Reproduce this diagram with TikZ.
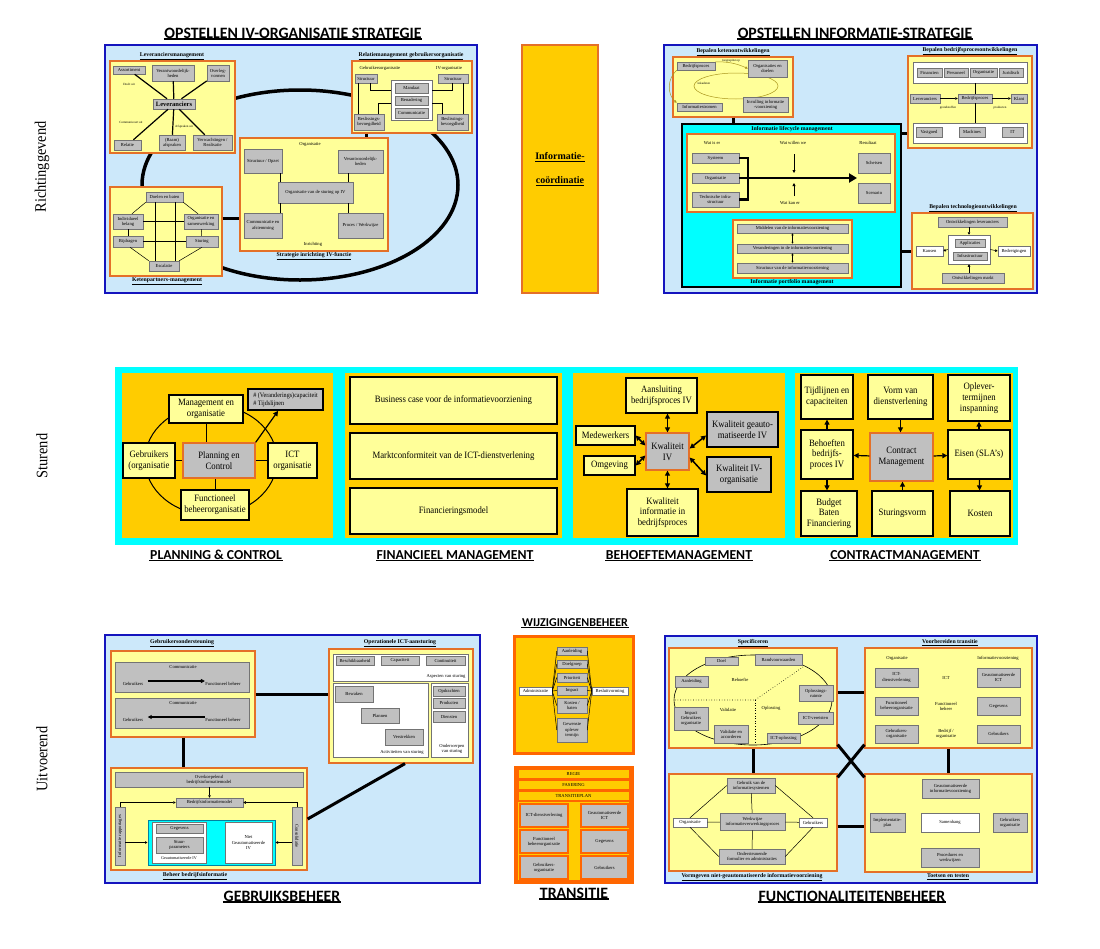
\documentclass[tikz,border=0pt]{standalone}
\usepackage{fontspec}
\setmainfont{Liberation Serif}
\newfontfamily\carl{Carlito}
\newfontfamily\nserif[FakeStretch=0.9]{Liberation Serif}
\usetikzlibrary{arrows.meta}
\definecolor{pblue}{RGB}{20,20,190}
\definecolor{lblue}{RGB}{204,232,250}
\definecolor{obord}{RGB}{228,112,40}
\definecolor{lyel}{RGB}{255,255,153}
\definecolor{gold}{RGB}{255,204,0}
\definecolor{cyanc}{RGB}{0,255,255}
\definecolor{ored}{RGB}{255,102,0}
\definecolor{gboxc}{RGB}{192,192,192}
\definecolor{olc}{RGB}{170,150,30}
\definecolor{teal2}{RGB}{0,130,160}
\newcommand\myfs{\fontsize{4.6}{5.1}\selectfont}
\newcommand\myst[1]{{\fontsize{5.8}{6.4}\selectfont\bfseries\underline{#1}}}
\newcommand\myfm{\nserif\fontsize{9.7}{10.7}\selectfont}
\newcommand\bx[7]{\node[#2, minimum width={#5-#3}, minimum height={#6-#4}] (#1) at ({(#3+#5)/2},{(#4+#6)/2}) {#7};}
\tikzset{
 pan/.style={draw=pblue,line width=2.5pt,fill=lblue},
 yb/.style={draw=obord,line width=1.2pt,fill=lyel},
 gb/.style={draw=black!55,line width=0.5pt,fill=gboxc,font=\myfs,align=center,inner sep=0.3pt},
 wb/.style={draw=black!55,line width=0.5pt,fill=white,font=\myfs,align=center,inner sep=0.3pt},
 sm/.style={font=\myfs,align=center,inner sep=0.3pt},
 stt/.style={inner sep=0.5pt,align=center},
 thk/.style={line width=3pt,black},
 thn/.style={line width=0.5pt,black},
 sarr/.style={-{Triangle[length=2.5pt,width=2.5pt]}},
 marr/.style={line width=1.2pt,-{Triangle[length=5pt,width=5pt]}},
 darr/.style={line width=1.5pt,{Triangle[length=5pt,width=5pt]}-{Triangle[length=5pt,width=5pt]}},
 ttl/.style={font=\carl\bfseries\fontsize{15.8}{18}\selectfont,inner sep=0.6pt,
   append after command={(\tikzlastnode.south west) edge[draw,line width=1.4pt] (\tikzlastnode.south east)}},
 ttm/.style={ttl,font=\carl\bfseries\fontsize{13.7}{16}\selectfont},
 tts/.style={ttl,font=\carl\bfseries\fontsize{12}{14}\selectfont},
 mb/.style={draw=black,line width=1.3pt,fill=lyel,font=\myfm,align=center,inner sep=0.5pt},
 mg/.style={draw=black,line width=1.8pt,fill=gboxc,font=\myfm,align=center,inner sep=0.5pt},
 mo/.style={draw=obord,line width=1.3pt,fill=gboxc,font=\myfm,align=center,inner sep=0.5pt},
 tgb/.style={draw=ored,line width=1.2pt,fill=gboxc,font=\myfs,align=center,inner sep=0.3pt},
 lab/.style={font=\nserif\fontsize{16}{18}\selectfont,rotate=90,inner sep=0pt},
}
\begin{document}
\begin{tikzpicture}[x=1pt,y=-1pt]
\useasboundingbox (0,0) rectangle (1100,948);
\fill[white] (0,0) rectangle (1100,948);

% side labels
\node[lab] (L1) at (42,167) {Richtinggevend};
\node[lab] (L2) at (42,456) {Sturend};
\node[lab] (L3) at (42,759) {Uitvoerend};

% ================= TOP LEFT =================
\node[ttl] (T1) at (293,33) {OPSTELLEN IV-ORGANISATIE STRATEGIE};
\bx{P1}{pan}{105}{45}{477}{293}{}
\draw[line width=3.5pt] (300,185) ellipse [x radius=158pt, y radius=95pt];

\bx{lev}{yb}{110}{61}{235}{153}{}
\node[stt] (levt) at (172,56) {\myst{Leveranciersmanagement}};
\bx{la}{gb}{113}{66}{145}{74}{Assortiment}
\bx{lb}{gb}{152}{65}{194}{81}{Verantwoordelijk-\\heden}
\bx{lc}{gb}{207}{65}{229}{81}{Overleg-\\vormen}
\bx{ld}{gb,font=\fontsize{6.5}{7}\selectfont\bfseries}{153}{99}{195}{109}{Leveranciers}
\bx{le}{gb}{114}{140}{141}{150}{Relatie}
\bx{lf}{gb}{159}{135}{185}{150}{(Raam)\\afspraken}
\bx{lg}{gb}{193}{135}{232}{150}{Verwachtingen /\\Realisatie}
\foreach \t in {la,lb,lc,le,lf,lg} \draw[line width=1.2pt] (ld) -- (\t);
\node[sm,font=\fontsize{3.2}{4}\selectfont] (lx1) at (129,84) {Doelt uit};
\node[sm,font=\fontsize{3.2}{4}\selectfont] (lx2) at (131,122) {Communiceert uit};
\node[sm,font=\fontsize{3.2}{4}\selectfont] (lx3) at (184,127) {Afspraken uit};

\bx{rel}{yb}{352}{61}{472}{133}{}
\node[stt] (relt) at (411,56) {\myst{Relatiemanagement gebruikersorganisatie}};
\node[sm] (rl1) at (380,68) {Gebruikersorganisatie};
\node[sm] (rl2) at (449,68) {IV-organisatie};
\bx{rs1}{gb}{355}{74}{377}{83}{Structuur}
\bx{rs2}{gb}{438}{74}{468}{83}{Structuur}
\bx{rw}{wb}{391}{80}{432}{120}{}
\bx{rm}{gb}{395}{83}{428}{93}{Mandaat}
\bx{rb}{gb}{395}{96}{428}{105}{Benadering}
\bx{rc}{gb}{395}{108}{428}{118}{Communicatie}
\bx{rb1}{gb}{354}{114}{384}{130}{Beslissings-\\bevoegdheid}
\bx{rb2}{gb}{437}{114}{468}{130}{Beslissings-\\bevoegdheid}
\draw[thn] ([xshift=3pt]rs1.south west) -- ([xshift=3pt]rs1.south west |- rb1.north);
\draw[thn] ([xshift=15pt]rs1.south west) |- ([yshift=-10pt]rw.north west);
\draw[thn] ([xshift=24pt]rb1.north west) |- ([yshift=-23pt]rw.north west);
\draw[thn] ([xshift=-5pt]rs2.south east) -- ([xshift=-5pt]rs2.south east |- rb2.north);
\draw[thn] ([xshift=-16pt]rs2.south east) |- ([yshift=-10pt]rw.north east);
\draw[thn] ([xshift=-26pt]rb2.north east) |- ([yshift=-23pt]rw.north east);

\bx{org}{yb}{240}{138}{388}{251}{}
\node[stt] (orgt) at (314,256) {\myst{Strategie inrichting IV-functie}};
\node[sm] (orgl1) at (310,144) {Organisatie};
\node[sm] (orgl2) at (313,244) {Inrichting};
\bx{os}{gb}{244}{149}{282}{173}{Structuur / Opzet}
\bx{ov}{gb}{338}{150}{383}{173}{Verantwoordelijk-\\heden}
\bx{oc}{gb}{278}{182}{353}{203}{Organisatie van de sturing op IV}
\bx{oa}{gb}{244}{213}{282}{238}{Communicatie en\\afstemming}
\bx{op}{gb}{338}{213}{383}{238}{Proces / Werkwijze}
\draw[thn] ([xshift=-2pt]os.south east) -- ([xshift=-2pt]os.south east |- oc.north);
\draw[thn] ([xshift=-2pt]oa.north east) -- ([xshift=-2pt]oa.north east |- oc.south);
\draw[thn] ([xshift=10pt]ov.south west) -- ([xshift=10pt]ov.south west |- oc.north);
\draw[thn] ([xshift=10pt]op.north west) -- ([xshift=10pt]op.north west |- oc.south);

\bx{ket}{yb}{110}{187}{222}{276}{}
\node[stt] (kett) at (167,281) {\myst{Ketenpartners-management}};
\bx{kd}{gb}{146}{192}{183}{202}{Doelen en baten}
\bx{ki}{gb}{113}{214}{143}{229}{Individueel\\belang}
\bx{ko}{gb}{184}{214}{218}{229}{Organisatie en\\samenwerking}
\bx{kb}{gb}{113}{236}{143}{247}{Bijdragen}
\bx{ks}{gb}{186}{236}{218}{247}{Sturing}
\bx{ke}{gb}{149}{261}{179}{271}{Escalatie}
\draw[thn] (kd.south west) -- ([xshift=4pt]ki.north);
\draw[thn] (kd.south east) -- ([xshift=-3pt]ko.north);
\draw[thn] (ki) -- (ko);
\draw[thn] (kb) -- (ks);
\draw[thn] (ki) -- (kb);
\draw[thn] (ko) -- (ks);
\draw[thn] ([xshift=2pt]kb.south) -- (ke.north west);
\draw[thn] (ks.south) -- (ke.north east);
\draw[thn] ([xshift=-9pt]kd.south) -- ([xshift=-9pt]kd.south |- ke.north);
\draw[thn] ([xshift=11pt]kd.south) -- ([xshift=11pt]kd.south |- ke.north);

\draw[thk] ([yshift=13.5pt]ket.east) -- ([yshift=13.5pt]ket.east -| org.west);
\draw[thk] ([xshift=15pt]rel.south west) -- ([xshift=15pt]rel.south west |- org.north);

% ================= INFORMATIE-COORDINATIE =================
\bx{ic}{draw=obord,line width=2.5pt,fill=gold,font=\bfseries\fontsize{10}{12}\selectfont,align=center}{522}{45}{598}{293}{\underline{Informatie-}\\[12pt]\underline{coördinatie}}

% ================= TOP RIGHT =================
\node[ttl] (T2) at (855,33) {OPSTELLEN INFORMATIE-STRATEGIE};
\bx{P2}{pan}{664}{45}{1037}{293}{}

\bx{bk}{yb}{673}{57}{793}{117}{}
\node[stt] (bkt) at (733,52) {\myst{Bepalen ketenontwikkelingen}};
\draw[olc,line width=0.5pt] (736,86) ellipse [x radius=42pt,y radius=13pt];
\bx{bk1}{gb}{677}{62}{715}{70}{Bedrijfsproces}
\bx{bk2}{gb}{748}{60}{787}{77}{Organisaties en\\doelen}
\bx{bk3}{gb}{677}{103}{722}{111}{Informatiestromen}
\bx{bk4}{gb}{743}{97}{788}{112}{Invulling informatie\\-voorziening}
\draw[olc,line width=0.5pt,sarr] (bk1.north east) to[bend left=12] (bk2.west);
\draw[olc,line width=0.5pt,sarr] (bk1.south west) to[bend right=50] (bk3.north west);
\node[sm,font=\fontsize{3.2}{4}\selectfont] (bkl1) at (731,61) {toegespitst op};
\node[sm,font=\fontsize{3.2}{4}\selectfont] (bkl2) at (704,83) {inkaderen};

\bx{ilm}{draw=black,line width=1.2pt,fill=cyanc}{682}{124}{901}{287}{}
\node[stt] (ilmt) at (792,130) {\myst{Informatie lifecycle management}};
\bx{ily}{yb}{687}{134}{895}{212}{}
\node[sm] (wl1) at (712,143) {Wat is er};
\node[sm] (wl2) at (793,143) {Wat willen we};
\node[sm] (wl3) at (868,143) {Resultaat};
\node[sm] (wl4) at (790,203) {Wat kan er};
\bx{is1}{gb}{692}{153}{739}{163}{Systeem}
\bx{is2}{gb}{692}{173}{739}{183}{Organisatie}
\bx{is3}{gb}{692}{192}{739}{207}{Technische infra-\\structuur}
\bx{ir1}{gb}{858}{153}{890}{173}{Schetsen}
\bx{ir2}{gb}{858}{183}{890}{203}{Scenario}
\coordinate (brk) at (748,178);
\coordinate (ae) at (857,178);
\draw[line width=2.5pt] (is1.east) -| (brk) |- (is3.east);
\draw[line width=2.5pt] (is2.east) -- (brk);
\draw[line width=2.5pt,-{Triangle[length=8pt,width=9pt]}] (brk) -- (ae);
\coordinate (va1) at (794,154);
\coordinate (va2) at (794,173);
\coordinate (va3) at (794,196);
\coordinate (va4) at (794,183);
\draw[line width=0.8pt,-{Triangle[length=3pt,width=3pt]}] (va1) -- (va2);
\draw[line width=0.8pt,-{Triangle[length=3pt,width=3pt]}] (va3) -- (va4);

\bx{ipm}{yb}{733}{220}{852}{278}{}
\node[stt] (ipmt) at (792,283) {\myst{Informatie portfolio management}};
\bx{ip1}{gb}{737}{224}{848}{233}{Middelen van de informatievoorziening}
\bx{ip2}{gb}{737}{244}{848}{253}{Veranderingen in de informatievoorziening}
\bx{ip3}{gb}{737}{263}{848}{273}{Structuur van de informatievoorziening}
\draw[line width=0.6pt,{Triangle[length=2pt,width=2pt]}-{Triangle[length=2pt,width=2pt]}] (ip1) -- (ip2);
\draw[line width=0.6pt,{Triangle[length=2pt,width=2pt]}-{Triangle[length=2pt,width=2pt]}] (ip2) -- (ip3);

\bx{bb}{yb}{908}{56}{1032}{148}{}
\node[stt] (bbt) at (970,51) {\myst{Bepalen bedrijfsprocesontwikkelingen}};
\bx{bbw1}{wb}{913}{62}{1027}{83}{}
\bx{bf1}{gb}{917}{68}{942}{77}{Financien}
\bx{bf2}{gb}{944}{68}{968}{77}{Personeel}
\bx{bf3}{gb}{970}{68}{997}{77}{Organisatie}
\bx{bf4}{gb}{999}{68}{1023}{77}{Juridisch}
\bx{bl}{gb}{910}{94}{940}{103}{Leveranciers}
\bx{bp}{gb}{958}{94}{992}{103}{Bedrijfsproces}
\bx{bkl}{gb}{1011}{94}{1027}{103}{Klant}
\bx{bbw2}{wb}{913}{123}{1027}{143}{}
\bx{bv1}{gb}{916}{127}{942}{137}{Vastgoed}
\bx{bv2}{gb}{959}{127}{985}{137}{Machines}
\bx{bv3}{gb}{1002}{127}{1023}{137}{IT}
\draw[thn,sarr] (bl) -- (bp);
\draw[thn,sarr] (bp) -- (bkl);
\draw[thn] (bp.north) -- (bp.north |- bbw1.south);
\draw[thn] (bp.south) -- (bp.south |- bbw2.north);
\node[sm,font=\fontsize{3.2}{4}\selectfont] (bgl1) at (948,108) {grondstoffen};
\node[sm,font=\fontsize{3.2}{4}\selectfont] (bgl2) at (1000,108) {producten};

\bx{bt}{yb}{912}{213}{1033}{289}{}
\node[stt] (btt) at (973,208) {\myst{Bepalen technologieontwikkelingen}};
\bx{bt1}{gb}{938}{217}{1007}{227}{Ontwikkelingen leveranciers}
\bx{btw}{wb}{948}{235}{990}{264}{}
\bx{bt2}{gb}{955}{239}{985}{247}{Applicaties}
\bx{bt3}{gb}{953}{252}{987}{260}{Infrastructuur}
\bx{bt4}{wb}{916}{246}{943}{256}{Kansen}
\bx{bt5}{wb}{998}{246}{1030}{256}{Bedreigingen}
\bx{bt6}{gb}{942}{273}{1004}{283}{Ontwikkelingen markt}
\draw[thn,sarr] (bt1.south -| btw.north) -- (btw.north);
\draw[thn,sarr] (bt6.north -| btw.south) -- (btw.south);
\draw[thn,sarr] (btw.west) -- (bt4.east);
\draw[thn,sarr] (btw.east) -- (bt5.west);

\draw[thk] (bk.south) -- (bk.south |- ilm.north);
\draw[thk] (bbw2.west -| ilm.east) -- (bbw2.west -| bb.west);
\draw[thk] (bt4.west -| ilm.east) -- (bt4.west -| bt.west);

% ================= MIDDLE BAND =================
\bx{mband}{fill=cyanc,draw=none}{115}{367}{1018}{545}{}
\bx{pp}{fill=gold,draw=none}{122}{373}{333}{538}{}
\bx{fp}{fill=gold,draw=none}{345}{373}{562}{538}{}
\bx{bp2}{fill=gold,draw=none}{573}{373}{785}{538}{}
\bx{cp}{fill=gold,draw=none}{795}{373}{1013}{538}{}
\node[ttm] (T3) at (216,555) {PLANNING \& CONTROL};
\node[ttm] (T4) at (455,555) {FINANCIEEL MANAGEMENT};
\node[ttm] (T5) at (679,555) {BEHOEFTEMANAGEMENT};
\node[ttm] (T6) at (905,555) {CONTRACTMANAGEMENT};

% planning & control
\draw[line width=1pt] (211,460) ellipse [x radius=66pt,y radius=55pt];
\bx{pm}{mb}{169}{395}{243}{423}{Management en\\organisatie}
\bx{pcap}{mg,font=\nserif\fontsize{6.8}{7.8}\selectfont,align=left}{248}{389}{323}{410}{\# (Veranderings)capaciteit\\\# Tijdslijnen}
\bx{pg}{mb}{123}{443}{175}{478}{Gebruikers\\(organisatie}
\bx{pc}{mo}{183}{443}{255}{478}{Planning en\\Control}
\bx{pi}{mb}{268}{443}{317}{478}{ICT\\organisatie}
\bx{pf}{mb}{181}{490}{249}{520}{Functioneel\\beheerorganisatie}
\draw[line width=1pt] (pm.south) -- (pm.south |- pc.north);
\draw[line width=1pt] (pf.north) -- (pf.north |- pc.south);
\draw[line width=1pt] (pg) -- (pc);
\draw[line width=1pt] (pc) -- (pi);
\draw[marr] (pc.north east) -- ([xshift=31pt]pcap.south west);

% financieel
\bx{f1}{mb}{350}{377}{557}{424}{Business case voor de informatievoorziening}
\bx{f2}{mb}{350}{433}{557}{479}{Marktconformiteit van de ICT-dienstverlening}
\bx{f3}{mb}{350}{488}{557}{534}{Financieringsmodel}

% behoefte
\bx{b0}{mo}{646}{433}{689}{470}{Kwaliteit\\IV}
\bx{b1}{mb}{626}{378}{697}{413}{Aansluiting\\bedrijfsproces IV}
\bx{b2}{mb}{576}{426}{635}{445}{Medewerkers}
\bx{b3}{mb}{584}{456}{635}{475}{Omgeving}
\bx{b4}{mg}{707}{412}{778}{447}{Kwaliteit geauto-\\matiseerde IV}
\bx{b5}{mg}{707}{457}{771}{492}{Kwaliteit IV-\\organisatie}
\bx{b6}{mb}{627}{489}{698}{536}{Kwaliteit\\informatie in\\bedrijfsproces}
\draw[darr] (b0.north) -- (b0.north |- b1.south);
\draw[darr] (b0.south) -- (b0.south |- b6.north);
\draw[darr] (b2.east) -- ([yshift=6pt]b0.west);
\draw[darr] (b3.east) -- ([yshift=-4pt]b0.west);
\draw[darr] ([yshift=3pt]b0.east) -- ([yshift=-6pt]b4.west);
\draw[darr] ([yshift=-6pt]b0.east) -- ([yshift=-1pt]b5.west);

% contract
\bx{c1}{mb}{801}{375}{853}{419}{Tijdlijnen en\\capaciteiten}
\bx{c2}{mb}{868}{375}{933}{419}{Vorm van\\dienstverlening}
\bx{c3}{mb}{948}{375}{1010}{421}{Oplever-\\termijnen\\inspanning}
\bx{c4}{mb}{801}{430}{853}{479}{Behoeften\\bedrijfs-\\proces IV}
\bx{c5}{mo}{870}{433}{933}{481}{Contract\\Management}
\bx{c6}{mb}{948}{430}{1010}{479}{Eisen (SLA’s)}
\bx{c7}{mb}{801}{491}{857}{536}{Budget\\Baten\\Financiering}
\bx{c8}{mb}{872}{491}{933}{536}{Sturingsvorm}
\bx{c9}{mb}{950}{491}{1010}{536}{Kosten}
\draw[marr] (c5) -- (c4);
\draw[marr] (c5) -- (c6);
\draw[marr] (c2.south) -- (c2.south |- c5.north);
\draw[marr] (c8.north) -- (c8.north |- c5.south);
\draw[marr] (c4) -- (c1);
\draw[marr] (c4.south) -- (c4.south |- c7.north);
\draw[marr] (c6) -- (c3);
\draw[marr] (c6) -- (c9);

% ================= BOTTOM LEFT =================
\bx{P3}{pan}{105}{635}{480}{883}{}
\node[ttl] (T7) at (282,896) {GEBRUIKSBEHEER};

\bx{gu}{yb}{111}{651}{255}{737}{}
\node[stt] (gut) at (182,643) {\myst{Gebruikersondersteuning}};
\bx{gu1}{gb}{115}{662}{249}{692}{}
\bx{gu2}{gb}{115}{698}{249}{728}{}
\node[sm] (gc1) at (183,667) {Communicatie};
\node[sm] (gl1) at (133,684) {Gebruikers};
\node[sm] (gr1) at (223,684) {Functioneel beheer};
\node[sm] (gc2) at (183,703) {Communicatie};
\node[sm] (gl2) at (133,720) {Gebruikers};
\node[sm] (gr2) at (223,720) {Functioneel beheer};
\draw[line width=1.5pt,-{Triangle[length=4pt,width=4pt]},shorten <=4pt] ([yshift=3pt]gl1.east) -- ([yshift=3pt]gr1.west);
\draw[line width=1.5pt,-{Triangle[length=4pt,width=4pt]},shorten >=4pt] ([yshift=3pt]gr2.west) -- ([yshift=3pt]gl2.east);

\bx{oi}{yb}{329}{649}{473}{763}{}
\node[stt] (oit) at (400,643) {\myst{Operationele ICT-aansturing}};
\bx{ow1}{wb}{333}{654}{468}{681}{}
\bx{oq1}{gb}{336}{656}{374}{665}{Beschikbaarheid}
\bx{oq2}{gb}{381}{656}{419}{665}{Capaciteit}
\bx{oq3}{gb}{426}{656}{465}{665}{Continuiteit}
\node[sm] (owl1) at (446,676) {Aspecten van sturing};
\bx{ow2}{wb}{333}{683}{428}{757}{}
\bx{oa1}{gb}{335}{686}{373}{702}{Bewaken}
\bx{oa2}{gb}{361}{708}{399}{723}{Plannen}
\bx{oa3}{gb}{385}{729}{423}{745}{Verstrekken}
\node[sm] (owl2) at (402,752) {Activiteiten van sturing};
\bx{ow3}{wb}{431}{683}{468}{757}{}
\bx{ob1}{gb}{433}{686}{465}{696}{Opdrachten}
\bx{ob2}{gb}{433}{698}{465}{708}{Producten}
\bx{ob3}{gb}{433}{711}{465}{722}{Diensten}
\node[sm] (owl3) at (452,749) {Onderwerpen\\van sturing};

\bx{bi}{yb}{111}{768}{307}{870}{}
\node[stt] (bit) at (195,876) {\myst{Beheer bedrijfsinformatie}};
\bx{bi1}{gb}{115}{772}{303}{787}{Overkoepelend\\bedrijfsinformatiemodel}
\bx{bi2}{gb}{176}{798}{243}{807}{Bedrijfsinformatiemodel}
\bx{bi3}{gb}{115}{807}{125}{865}{}
\node[sm,rotate=90] (bi3t) at (bi3) {Informatie rapportages};
\bx{bi4}{gb}{292}{807}{302}{865}{}
\node[sm,rotate=-90] (bi4t) at (bi4) {Consolidatie};
\bx{bic}{draw=teal2,line width=1pt,fill=cyanc}{148}{820}{275}{865}{}
\bx{bw1}{wb}{152}{822}{206}{863}{}
\bx{bg1}{gb}{156}{824}{203}{833}{Gegevens}
\bx{bg2}{gb}{156}{837}{203}{853}{Stuur-\\parameters}
\node[sm,font=\fontsize{4.2}{5}\selectfont] (bwl) at (179,858) {Geautomatiseerde IV};
\bx{bw2}{wb}{225}{822}{272}{863}{Niet\\Geautomatiseerde\\IV}
\draw[thn,sarr] (bi2.north |- bi1.south) -- (bi2.north);
\draw[thn,sarr] (bi3.north) |- (bi2.west);
\draw[thn,sarr] (bi4.north) |- (bi2.east);
\draw[thn,sarr] (bi3.east |- bic.west) -- (bic.west);
\draw[thn,sarr] (bi4.west |- bic.east) -- (bic.east);

\draw[thk] (gu.east) -- (gu.east -| oi.west);
\draw[thk] (gu.south) -- (gu.south |- bi.north);
\draw[thk] (bi.east) -- ([xshift=4pt]oi.south);

% ================= BOTTOM MIDDLE =================
\node[tts] (T8) at (575,623) {WIJZIGINGENBEHEER};
\bx{wz}{draw=ored,line width=3pt,fill=gold}{514}{636}{633}{753}{}
\bx{w1}{gb}{557}{647}{587}{655}{Aanleiding}
\bx{w2}{gb}{557}{660}{587}{668}{Doelgroep}
\bx{w3}{gb}{557}{673}{587}{682}{Prioriteit}
\bx{w4}{gb}{557}{686}{587}{695}{Impact}
\bx{w5}{gb}{557}{698}{587}{713}{Kosten /\\baten}
\bx{w6}{gb}{557}{718}{587}{742}{Gewenste\\oplever\\termijn}
\bx{wa}{wb}{519}{687}{552}{695}{Administratie}
\bx{wbv}{wb}{592}{687}{628}{695}{Besluitvorming}
\foreach \t in {w1,w2,w3,w4,w5,w6} {\draw[thn] (wa.east) -- (\t.west); \draw[thn] (\t.east) -- (wbv.west);}

\bx{tr}{fill=ored,draw=ored,line width=1pt}{514}{766}{633}{883}{}
\bx{t1}{fill=gold,draw=ored,line width=0.8pt,font=\myfs}{518}{770}{629}{778}{REGIE}
\bx{t2}{fill=gold,draw=ored,line width=0.8pt,font=\myfs}{518}{781}{629}{789}{FASERING}
\bx{t3}{fill=gold,draw=ored,line width=0.8pt,font=\myfs}{518}{792}{629}{800}{TRANSITIEPLAN}
\bx{t4}{fill=gold,draw=none}{518}{802}{629}{880}{}
\bx{ta}{tgb}{520}{804}{568}{827}{ICT-dienstverlening}
\bx{tb}{tgb}{581}{804}{628}{827}{Geautomatiseerde\\ICT}
\bx{tc}{tgb}{520}{830}{568}{853}{Functioneel\\beheerorganisatie}
\bx{td}{tgb}{581}{830}{628}{853}{Gegevens}
\bx{te}{tgb}{520}{856}{568}{879}{Gebruikers-\\organisatie}
\bx{tf}{tgb}{581}{856}{628}{879}{Gebruikers}
\node[ttl] (T9) at (574,893) {TRANSITIE};

% ================= BOTTOM RIGHT =================
\bx{P4}{pan}{665}{636}{1037}{883}{}
\node[ttl] (T10) at (852,896) {FUNCTIONALITEITENBEHEER};

\bx{sp}{yb}{669}{648}{837}{748}{}
\node[stt] (spt) at (753,643) {\myst{Specificeren}};
\draw[line width=0.6pt] (753,700) ellipse [x radius=79pt,y radius=45pt];
\draw[line width=0.6pt,dotted] (675,700) -- (755,700) -- (803,667);
\draw[line width=0.6pt,dotted] (755,700) -- (755,743);
\node[sm] (sl1) at (740,680) {Behoefte};
\node[sm] (sl2) at (728,710) {Validatie};
\node[sm] (sl3) at (771,708) {Oplossing};
\bx{s1}{gb}{705}{657}{738}{665}{Doel}
\bx{s2}{gb}{755}{654}{802}{665}{Randvoorwaarden}
\bx{s3}{gb}{675}{676}{708}{687}{Aanleiding}
\bx{s4}{gb}{799}{685}{833}{701}{Oplossings-\\ruimte}
\bx{s5}{gb}{674}{707}{708}{730}{Impact\\Gebruikers\\organisatie}
\bx{s6}{gb}{798}{712}{833}{724}{ICT-vereisten}
\bx{s7}{gb}{714}{725}{748}{743}{Validatie en\\accorderen}
\bx{s8}{gb}{767}{733}{800}{743}{ICT-oplossing}

\bx{vg}{yb}{669}{774}{837}{871}{}
\node[stt] (vgt) at (752,877) {\myst{Vormgeven niet-geautomatiseerde informatievoorziening}};
\bx{v1}{gb}{727}{778}{775}{793}{Gebruik van de\\informatiesystemen}
\bx{v2}{wb}{673}{818}{707}{827}{Organisatie}
\bx{v3}{gb}{720}{813}{785}{830}{Werkwijze\\informatieverwerkingsproces}
\bx{v4}{wb}{799}{818}{827}{827}{Gebruikers}
\bx{v5}{gb}{719}{849}{785}{864}{Ondersteunende\\formulier en administraties}
\draw[thn] (v2.north) -- (v1.west);
\draw[thn] (v1.east) -- (v4.north);
\draw[thn] (v4.south) -- (v5.east);
\draw[thn] (v5.west) -- (v2.south);
\draw[thn] (v2) -- (v3);
\draw[thn] (v3) -- (v4);
\draw[thn] (v1) -- (v3);
\draw[thn] (v3) -- (v5);

\bx{vt}{yb}{865}{648}{1032}{748}{}
\node[stt] (vtt) at (950,643) {\myst{Voorbereiden transitie}};
\node[sm] (vl1) at (897,658) {Organisatie};
\node[sm] (vl2) at (998,658) {Informatievoorziening};
\node[sm] (vl3) at (946,678) {ICT};
\node[sm] (vl4) at (946,706) {Functioneel\\beheer};
\node[sm] (vl5) at (946,734) {Bedrijf /\\organisatie};
\bx{vt1}{gb}{875}{668}{918}{687}{ICT-\\dienstverlening}
\bx{vt2}{gb}{977}{668}{1020}{687}{Geautomatiseerde\\ICT}
\bx{vt3}{gb}{875}{697}{918}{715}{Functioneel\\beheerorganisatie}
\bx{vt4}{gb}{977}{697}{1020}{715}{Gegevens}
\bx{vt5}{gb}{875}{725}{918}{743}{Gebruikers-\\organisatie}
\bx{vt6}{gb}{977}{725}{1020}{743}{Gebruikers}

\bx{tt}{yb}{865}{774}{1032}{872}{}
\node[stt] (ttt) at (948,877) {\myst{Toetsen en testen}};
\bx{tt1}{gb}{922}{779}{979}{798}{Geautomatiseerde\\informatievoorziening}
\bx{tt2}{gb}{870}{813}{905}{832}{Implementatie-\\plan}
\bx{tt3}{wb}{921}{813}{979}{832}{Samenhang}
\bx{tt4}{gb}{993}{813}{1027}{832}{Gebruikers\\organisatie}
\bx{tt5}{gb}{921}{848}{979}{867}{Procedures en\\werkwijzen}

\draw[thk] ([yshift=6pt]sp.east) -- ([yshift=6pt]sp.east -| vt.west);
\draw[thk] (sp.south) -- (sp.south |- vg.north);
\draw[thk] (vt.south) -- (vt.south |- tt.north);
\draw[thk] ([yshift=-3.5pt]vg.east) -- ([yshift=-3.5pt]vg.east -| tt.west);
\draw[thk] ([yshift=4pt]sp.south east) -- ([yshift=-4pt]tt.north west);
\draw[thk] ([yshift=-4pt]vg.north east) -- ([yshift=4pt]vt.south west);
\end{tikzpicture}
\end{document}
